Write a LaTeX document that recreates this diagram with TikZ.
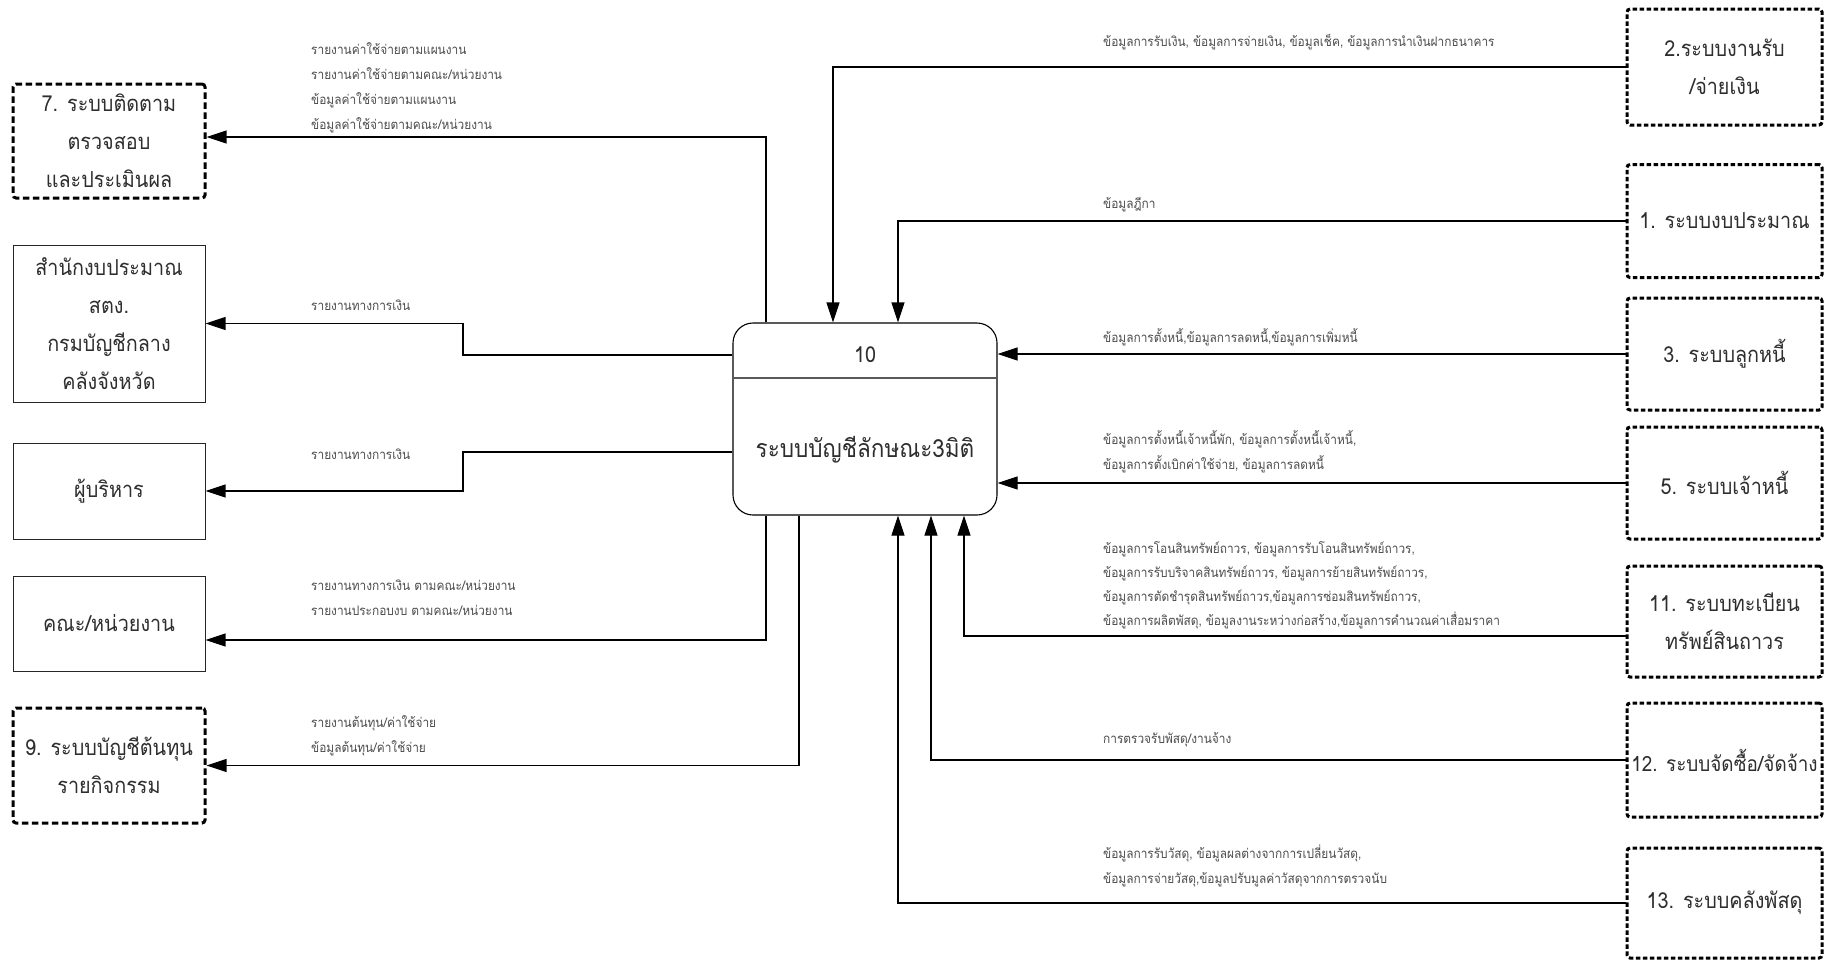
\documentclass[tikz,border=0pt]{standalone}
\usepackage{fontspec}
\setmainfont{Loma}[Script=Thai, FakeStretch=0.9]
\usetikzlibrary{arrows.meta}
\newcommand\bigf{\fontsize{22}{38}\selectfont}
\newcommand\labf{\fontsize{13.2}{25}\selectfont}
\begin{document}
\begin{tikzpicture}[x=1pt,y=-1pt,
  dbox/.style={draw, line width=3pt, dash pattern=on 6.5pt off 3.5pt, rounded corners=3pt,
    minimum width=192pt, minimum height=#1, inner sep=0pt, align=center, font=\bigf, text=black!82},
  sbox/.style={draw=black!85, line width=1pt, minimum width=192pt, minimum height=#1,
    inner sep=0pt, align=center, font=\bigf, text=black!82},
  rbox/.style={dbox=#1, minimum width=195pt, dash pattern=on 4.5pt off 2.5pt},
  lab/.style={font=\labf, align=left, inner sep=0pt, text=black!70, anchor=west},
  conn/.style={draw, line width=1.1pt, -{Triangle[length=20pt,width=13pt]}}]
\useasboundingbox[fill=white] (0,0) rectangle (1825,962);

% left boxes
\node[dbox=114pt] (b7) at (109,141) {7. ระบบติดตาม\\ตรวจสอบ\\และประเมินผล};
\node[sbox=157pt] (bs) at (109,323.5) {สำนักงบประมาณ\\สตง.\\กรมบัญชีกลาง\\คลังจังหวัด};
\node[sbox=96pt] (bm) at (109,491) {ผู้บริหาร};
\node[sbox=95pt] (bf) at (109,623.5) {คณะ/หน่วยงาน};
\node[dbox=115pt] (b9) at (109,765.5) {9. ระบบบัญชีต้นทุน\\รายกิจกรรม};

% right boxes
\node[rbox=116pt] (r2) at (1724.5,67) {2.ระบบงานรับ\\/จ่ายเงิน};
\node[rbox=113pt] (r1) at (1724.5,221) {1. ระบบงบประมาณ};
\node[rbox=112pt] (r3) at (1724.5,354) {3. ระบบลูกหนี้};
\node[rbox=112pt] (r5) at (1724.5,483) {5. ระบบเจ้าหนี้};
\node[rbox=111pt] (r11) at (1724.5,621.5) {11. ระบบทะเบียน\\ทรัพย์สินถาวร};
\node[rbox=114pt, font=\fontsize{21}{38}\selectfont] (r12) at (1724.5,760) {12. ระบบจัดซื้อ/จัดจ้าง};
\node[rbox=110pt] (r13) at (1724.5,903) {13. ระบบคลังพัสดุ};

% center process
\node[draw, line width=1.1pt, rounded corners=20pt, minimum width=264pt, minimum height=192pt] (c) at (865,419) {};
\draw[line width=1.5pt, black!65] (c.west |- 0,378) -- (c.east |- 0,378);
\node[font=\bigf, text=black!82] (cn) at (865,355) {10};
\node[font=\fontsize{25}{28}\selectfont, text=black!82] (ct) at (865,450) {ระบบบัญชีลักษณะ3มิติ};

% outgoing flows
\draw[conn] (c.north -| 766,0) |- (b7.east |- 0,137);
\draw[conn] (c.west |- 0,355) -- (463,355) |- (bs.east);
\draw[conn] (c.west |- 0,452) -- (463,452) |- (bm.east);
\draw[conn] (c.south -| 766,0) |- (bf.east |- 0,640);
\draw[conn] (c.south -| 799,0) |- (b9.east);

% incoming flows
\draw[conn] (r2.west) -| (c.north -| 833,0);
\draw[conn] (r1.west) -| (c.north -| 898,0);
\draw[conn] (r3.west) -- (c.east |- r3.west);
\draw[conn] (r5.west) -- (c.east |- r5.west);
\draw[conn] (r11.west |- 0,636) -| (c.south -| 964,0);
\draw[conn] (r12.west) -| (c.south -| 931,0);
\draw[conn] (r13.west) -| (c.south -| 898,0);

% labels left
\node[lab] (l7) at (311,87.5) {รายงานค่าใช้จ่ายตามแผนงาน\\รายงานค่าใช้จ่ายตามคณะ/หน่วยงาน\\ข้อมูลค่าใช้จ่ายตามแผนงาน\\ข้อมูลค่าใช้จ่ายตามคณะ/หน่วยงาน};
\node[lab] (ls) at (311,305) {รายงานทางการเงิน};
\node[lab] (lm) at (311,454) {รายงานทางการเงิน};
\node[lab] (lf) at (311,597.5) {รายงานทางการเงิน ตามคณะ/หน่วยงาน\\รายงานประกอบงบ ตามคณะ/หน่วยงาน};
\node[lab] (l9) at (311,735.5) {รายงานต้นทุน/ค่าใช้จ่าย\\ข้อมูลต้นทุน/ค่าใช้จ่าย};

% labels right
\node[lab] (l2) at (1103,42) {ข้อมูลการรับเงิน, ข้อมูลการจ่ายเงิน, ข้อมูลเช็ค, ข้อมูลการนำเงินฝากธนาคาร};
\node[lab] (l1) at (1103,205) {ข้อมูลฎีกา};
\node[lab] (l3) at (1103,337) {ข้อมูลการตั้งหนี้,ข้อมูลการลดหนี้,ข้อมูลการเพิ่มหนี้};
\node[lab] (l5) at (1103,451.5) {ข้อมูลการตั้งหนี้เจ้าหนี้พัก, ข้อมูลการตั้งหนี้เจ้าหนี้,\\ข้อมูลการตั้งเบิกค่าใช้จ่าย, ข้อมูลการลดหนี้};
\node[lab, font=\fontsize{13.2}{24}\selectfont] (l11) at (1103,585) {ข้อมูลการโอนสินทรัพย์ถาวร, ข้อมูลการรับโอนสินทรัพย์ถาวร,\\ข้อมูลการรับบริจาคสินทรัพย์ถาวร, ข้อมูลการย้ายสินทรัพย์ถาวร,\\ข้อมูลการตัดชำรุดสินทรัพย์ถาวร,ข้อมูลการซ่อมสินทรัพย์ถาวร,\\ข้อมูลการผลิตพัสดุ, ข้อมูลงานระหว่างก่อสร้าง,ข้อมูลการคำนวณค่าเสื่อมราคา};
\node[lab] (l12) at (1103,740) {การตรวจรับพัสดุ/งานจ้าง};
\node[lab] (l13) at (1103,866) {ข้อมูลการรับวัสดุ, ข้อมูลผลต่างจากการเปลี่ยนวัสดุ,\\ข้อมูลการจ่ายวัสดุ,ข้อมูลปรับมูลค่าวัสดุจากการตรวจนับ};
\end{tikzpicture}
\end{document}
